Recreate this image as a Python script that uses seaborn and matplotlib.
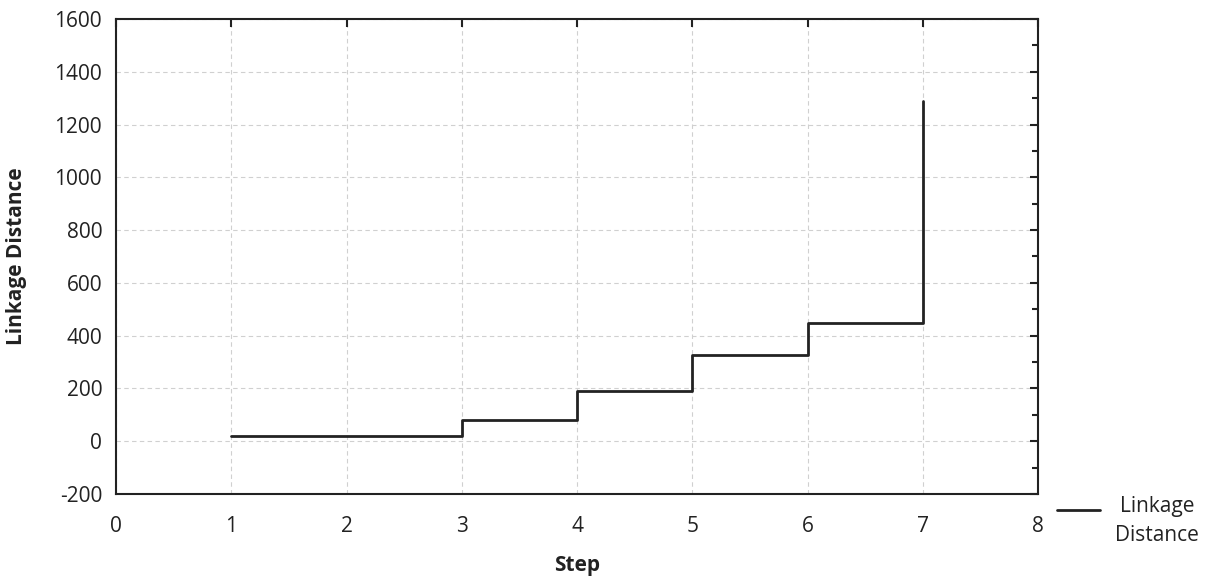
import matplotlib
matplotlib.use("Agg")
import matplotlib.pyplot as plt
import seaborn as sns
import pandas as pd
from matplotlib.ticker import MultipleLocator

# data
steps = [1, 2, 3, 4, 5, 6, 7]
linkage_distance = [18, 20, 81, 190, 327, 447, 1289]

df = pd.DataFrame({"Step": steps, "Linkage Distance": linkage_distance})

sns.set_style("white")
plt.rcParams['font.family'] = ['Open Sans', 'DejaVu Sans']
plt.rcParams['axes.unicode_minus'] = False

fs = 15
fig = plt.figure(figsize=(12.06, 5.83), dpi=100)
ax = fig.add_axes([0.0962, 0.1527, 0.7645, 0.8147])

sns.lineplot(data=df, x="Step", y="Linkage Distance", drawstyle="steps-post",
             color="#222222", linewidth=2, ax=ax, label="Linkage\nDistance")

ax.set_xlim(0, 8)
ax.set_ylim(-200, 1600)
ax.xaxis.set_major_locator(MultipleLocator(1))
ax.yaxis.set_major_locator(MultipleLocator(200))
ax.yaxis.set_minor_locator(MultipleLocator(100))
ax.tick_params(which="both", direction="in", top=True, right=True, labelsize=fs,
               color="#222222", width=1.5, labelcolor="#222222")
ax.tick_params(which="major", length=6)
ax.tick_params(which="minor", length=4)
ax.tick_params(axis="x", pad=16)
ax.tick_params(axis="y", pad=10)
ax.grid(True, which="major", linestyle=(0, (4, 3)), color="#d0d0d0", linewidth=0.8)
for s in ax.spines.values():
    s.set_color("#222222")
    s.set_linewidth(1.5)

ax.set_xlabel("Step", fontsize=fs, fontweight="bold", color="#222222")
ax.set_ylabel("Linkage Distance", fontsize=fs, fontweight="bold", color="#222222")
ax.xaxis.set_label_coords(0.5, -0.128)
ax.yaxis.set_label_coords(-0.0965, 0.5)

leg = ax.legend(loc="center left", bbox_to_anchor=(1.0206, -0.057), frameon=False,
                fontsize=fs, handlelength=2.07, handletextpad=0.72,
                borderpad=0, borderaxespad=0)
for t in leg.get_texts():
    t.set_multialignment("center")
    t.set_linespacing(1.45)
    t.set_color("#222222")
# put the handle level with the first text line
for h in leg.legend_handles:
    y = h.get_ydata()
    h.set_ydata([v + 0.55 * fs for v in y])

fig.savefig("out.png", dpi=100)
